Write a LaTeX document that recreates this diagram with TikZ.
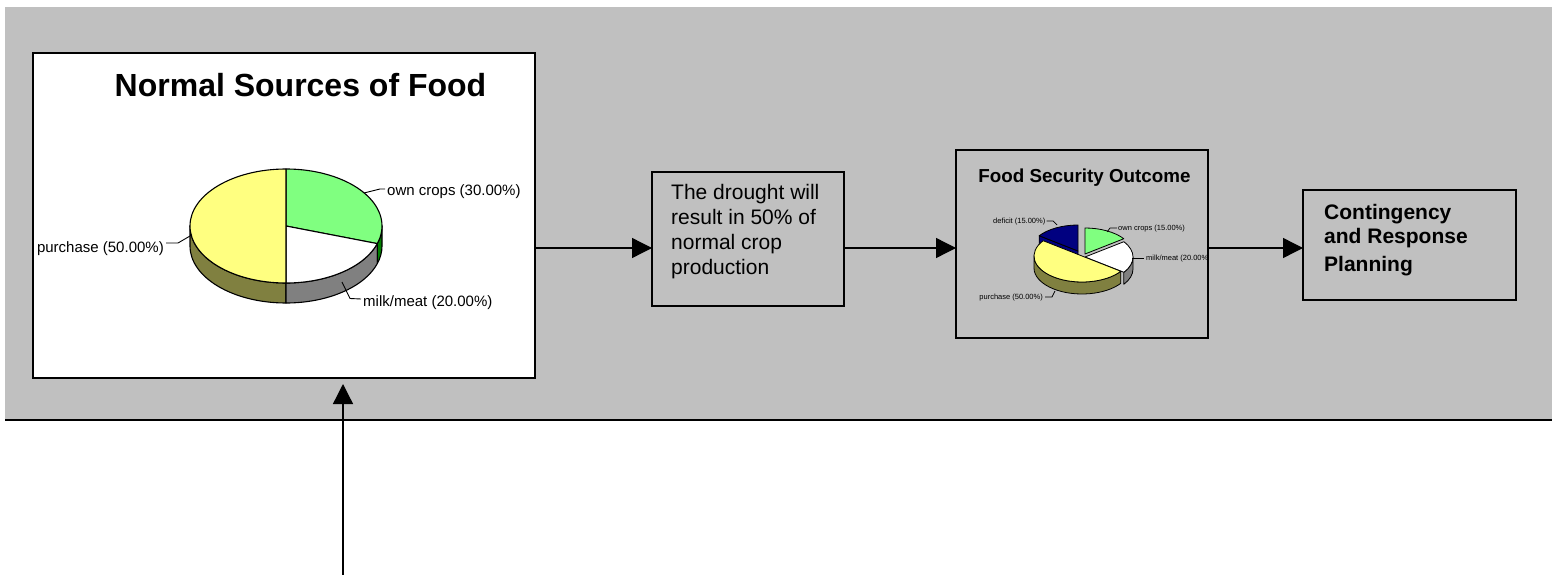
\documentclass[tikz,border=0pt]{standalone}
\usepackage{fontspec}
\setmainfont{Liberation Sans}
\usetikzlibrary{arrows.meta,calc}

\definecolor{panelgrey}{HTML}{C0C0C0}
\definecolor{pieyellow}{HTML}{FFFF80}
\definecolor{piegreen}{HTML}{80FF80}
\definecolor{pieolive}{HTML}{808040}
\definecolor{piegrey}{HTML}{808080}
\definecolor{piedkgreen}{HTML}{008000}
\definecolor{pienavy}{HTML}{000080}

% top face of a pie slice: [style]{cx}{cy}{rx}{ry}{start}{end}{colour}
\newcommand{\pietop}[8][]{%
  \filldraw[piestroke,#1,fill=#8] (#2,#3) -- ++(#6:#4pt and #5pt)
    arc[start angle=#6,end angle=#7,x radius=#4pt,y radius=#5pt] -- cycle;}
% outer side wall of a pie slice: [style]{cx}{cy}{rx}{ry}{start}{end}{depth}{colour}
\newcommand{\pieside}[9][]{%
  \filldraw[piestroke,#1,fill=#9] ($(#2,#3)+(#6:#4pt and #5pt)$)
    arc[start angle=#6,end angle=#7,x radius=#4pt,y radius=#5pt] -- ++(0,-#8)
    arc[start angle=#7,end angle=#6,x radius=#4pt,y radius=#5pt] -- cycle;}

\begin{document}
\begin{tikzpicture}[x=1pt,y=1pt,
  boxframe/.style={draw=black,line width=1.4pt,inner sep=0pt,outer sep=0pt},
  flow/.style={line width=1.3pt,-{Triangle[length=20pt,width=20pt]}},
  piestroke/.style={draw=black,line width=1.1pt,line join=round},
  smallstroke/.style={line width=0.8pt},
  leader/.style={line width=0.9pt},
  smallleader/.style={line width=0.7pt},
  biglabel/.style={font=\fontsize{15}{18}\selectfont,inner sep=0pt},
  smalllabel/.style={font=\fontsize{7.5}{9}\selectfont,inner sep=0pt}]

\useasboundingbox (0,0) rectangle (1552,-575);
\fill[white] (0,0) rectangle (1552,-575);

% grey panel with its lower rule
\fill[panelgrey] (5,-7) rectangle (1552,-420);
\draw[line width=1.4pt] (5,-420) -- (1552,-420);

% boxes
\node[boxframe,fill=white,minimum width=502pt,minimum height=325pt] (big) at (284,-215.5) {};
\node[boxframe,minimum width=192pt,minimum height=134pt] (drought) at (748,-239) {};
\node[boxframe,minimum width=252pt,minimum height=188pt] (fso) at (1082,-244) {};
\node[boxframe,minimum width=213pt,minimum height=110pt] (cont) at (1409.5,-245) {};

% texts
\node[font=\fontsize{32}{38}\selectfont\bfseries,anchor=base,inner sep=0pt] (bigtitle) at (300.5,-97) {Normal Sources of Food};
\node[anchor=north west,align=left,font=\fontsize{21}{25}\selectfont,inner sep=0pt] (droughttext) at (671,-184.5)
  {The drought will\\result in 50\% of\\normal crop\\production};
\node[font=\fontsize{18.8}{22}\selectfont\bfseries,anchor=base,inner sep=0pt] (fsotitle) at (1084.5,-182) {Food Security Outcome};
\node[anchor=north west,align=left,font=\fontsize{21}{25.8}\selectfont\bfseries,inner sep=0pt] (conttext) at (1324,-204.5)
  {Contingency\\[-2.5pt]and Response\\[2.5pt]Planning};

% flow arrows
\coordinate (flowy) at (0,-248);
\draw[flow] (big.east |- flowy) -- (drought.west |- flowy);
\draw[flow] (drought.east |- flowy) -- (fso.west |- flowy);
\draw[flow] (fso.east |- flowy) -- (cont.west |- flowy);
\coordinate (feed) at (343,-575);
\draw[flow,shorten >=6pt] (feed) -- (feed |- big.south);

% large 3-D pie: normal sources
\pieside{286}{-226}{96}{57}{180}{270}{20}{pieolive}
\pieside{286}{-226}{96}{57}{270}{342}{20}{piegrey}
\pieside{286}{-226}{96}{57}{342}{360}{20}{piedkgreen}
\pietop{286}{-226}{96}{57}{90}{-18}{piegreen}
\pietop{286}{-226}{96}{57}{-18}{-90}{white}
\pietop{286}{-226}{96}{57}{90}{270}{pieyellow}

\node[biglabel,anchor=east] (lbl-purch) at (164,-249) {purchase (50.00\%)};
\node[biglabel,anchor=west] (lbl-own) at (387,-192) {own crops (30.00\%)};
\node[biglabel,anchor=west] (lbl-milk) at (363,-303) {milk/meat (20.00\%)};
\coordinate (bp-purch) at (190,-236);
\coordinate (bp-own) at (364,-193);
\coordinate (bp-milk) at (342,-282);
\draw[leader] (bp-purch) -- (178,-243) -- ([xshift=2pt,yshift=6pt]lbl-purch.east);
\draw[leader] (bp-own) -- (380,-189) -- ([xshift=-2pt,yshift=3pt]lbl-own.west);
\draw[leader] (bp-milk) -- (350,-298.5) -- ([xshift=-2pt,yshift=4pt]lbl-milk.west);

% small exploded 3-D pie: outcome
\begin{scope}
  \clip (fso.south west) rectangle (fso.north east);
  \filldraw[piestroke,smallstroke,fill=pienavy] (1078,-251) -- ++(144:48pt and 26pt) -- ++(0,-12) -- (1078,-263) -- cycle;
  \pietop[smallstroke]{1078}{-251}{48}{26}{90}{144}{pienavy}
  \pietop[smallstroke]{1085}{-254}{48}{26}{36}{90}{piegreen}
  \pieside[smallstroke]{1085}{-257}{48}{26}{324}{360}{12}{piegrey}
  \pietop[smallstroke]{1085}{-257}{48}{26}{-36}{36}{white}
  \pieside[smallstroke]{1082}{-256}{48}{26}{180}{324}{12}{pieolive}
  \pietop[smallstroke]{1082}{-256}{48}{26}{144}{324}{pieyellow}

  \node[smalllabel,anchor=east] (s-def) at (1045.5,-222) {deficit (15.00\%)};
  \node[smalllabel,anchor=west] (s-own) at (1118,-229) {own crops (15.00\%)};
  \node[smalllabel,anchor=west] (s-milk) at (1146,-259) {milk/meat (20.00\%)};
  \node[smalllabel,anchor=east] (s-purch) at (1043,-298) {purchase (50.00\%)};
  \coordinate (sp-def) at (1057,-225);
  \coordinate (sp-own) at (1107,-232);
  \coordinate (sp-milk) at (1132,-258);
  \coordinate (sp-purch) at (1055,-291);
  \draw[smallleader] ([xshift=1pt,yshift=1pt]s-def.east) -- (1053,-221) -- (sp-def);
  \draw[smallleader] (sp-own) -- (1110,-228) -- ([xshift=-1pt,yshift=1pt]s-own.west);
  \draw[smallleader] (sp-milk) -- ([xshift=-2pt,yshift=1pt]s-milk.west);
  \draw[smallleader] ([xshift=2pt,yshift=1pt]s-purch.east) -- (1052,-297) -- (sp-purch);
\end{scope}
\end{tikzpicture}
\end{document}
